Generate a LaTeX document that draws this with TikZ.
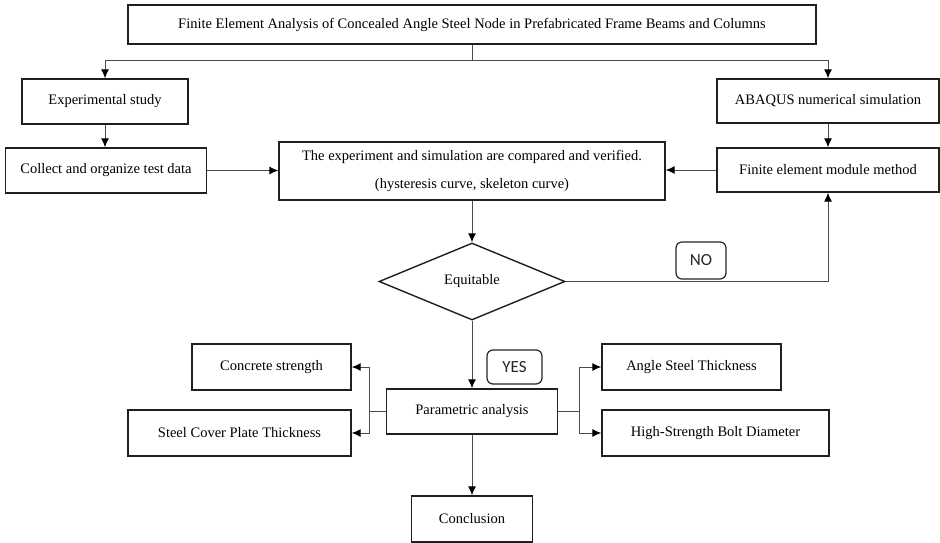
\documentclass[tikz,border=0pt]{standalone}
\usepackage{fontspec}
\setmainfont{Liberation Serif}
\newfontfamily\labelfont{Carlito}
\usetikzlibrary{arrows.meta,shapes.geometric}
\begin{document}
\begin{tikzpicture}[x=1pt,y=-1pt,
  box/.style={draw=black!88,line width=1.4pt,fill=white,inner sep=0pt,align=center,
    font=\fontsize{14.5}{28}\selectfont},
  tag/.style={draw=black!85,line width=1.2pt,rounded corners=6pt,inner sep=0pt,
    font=\labelfont\fontsize{17}{20}\selectfont,text=black!85},
  conn/.style={draw=black!70,line width=1pt},
  arr/.style={conn,-{Latex[black,length=9pt,width=8pt]}}]
\useasboundingbox (0,0) rectangle (940,543);
\fill[white] (0,0) rectangle (940,543);

\node[box,minimum width=688pt,minimum height=39pt] (title) at (472,24.5)
  {Finite Element Analysis of Concealed Angle Steel Node in Prefabricated Frame Beams and Columns};
\node[box,minimum width=166pt,minimum height=45pt] (exp) at (105,101.5) {Experimental study};
\node[box,minimum width=222pt,minimum height=44pt] (abaqus) at (828,101) {ABAQUS numerical simulation};
\node[box,minimum width=201pt,minimum height=45pt] (collect) at (106,170.5) {Collect and organize test data};
\node[box,minimum width=386pt,minimum height=58pt] (compare) at (472,171)
  {The experiment and simulation are compared and verified.\\(hysteresis curve, skeleton curve)};
\node[box,minimum width=222pt,minimum height=44pt] (finite) at (828,170) {Finite element module method};
\node[box,shape=diamond,aspect=2.42,minimum width=186pt,minimum height=77pt] (equi) at (472,281.5) {Equitable};
\node[tag,minimum width=50pt,minimum height=37pt] (no) at (701,260.5) {NO};
\node[tag,minimum width=55pt,minimum height=34pt] (yes) at (514.5,367) {YES};
\node[box,minimum width=171pt,minimum height=45pt] (param) at (472,411.5) {Parametric analysis};
\node[box,minimum width=159pt,minimum height=46pt] (concrete) at (271.5,367) {Concrete strength};
\node[box,minimum width=223pt,minimum height=46pt] (steel) at (239.5,433) {Steel Cover Plate Thickness};
\node[box,minimum width=179pt,minimum height=46pt] (angle) at (691.5,367) {Angle Steel Thickness};
\node[box,minimum width=227pt,minimum height=46pt] (bolt) at (715.5,433) {High-Strength Bolt Diameter};
\node[box,minimum width=121pt,minimum height=46pt] (concl) at (472,519) {Conclusion};

\coordinate (split) at (472,61);
\coordinate (lb) at (369,411.5);
\coordinate (rb) at (579,411.5);

\draw[conn] (title.south) -- (split);
\draw[arr] (split) -| (exp.north);
\draw[arr] (split) -| (abaqus.north);
\draw[arr] (exp.south) -- (exp.south |- collect.north);
\draw[arr] (abaqus.south) -- (finite.north);
\draw[arr] (collect.east) -- (collect.east -| compare.west);
\draw[arr] (finite.west) -- (finite.west -| compare.east);
\draw[arr] (compare.south) -- (equi.north);
\draw[arr] (equi.east) -| (finite.south);
\draw[arr] (equi.south) -- (param.north);
\draw[conn] (param.west) -- (lb);
\draw[arr] (lb) |- (concrete.east);
\draw[arr] (lb) |- (steel.east);
\draw[conn] (param.east) -- (rb);
\draw[arr] (rb) |- (angle.west);
\draw[arr] (rb) |- (bolt.west);
\draw[arr] (param.south) -- (concl.north);
\end{tikzpicture}
\end{document}
